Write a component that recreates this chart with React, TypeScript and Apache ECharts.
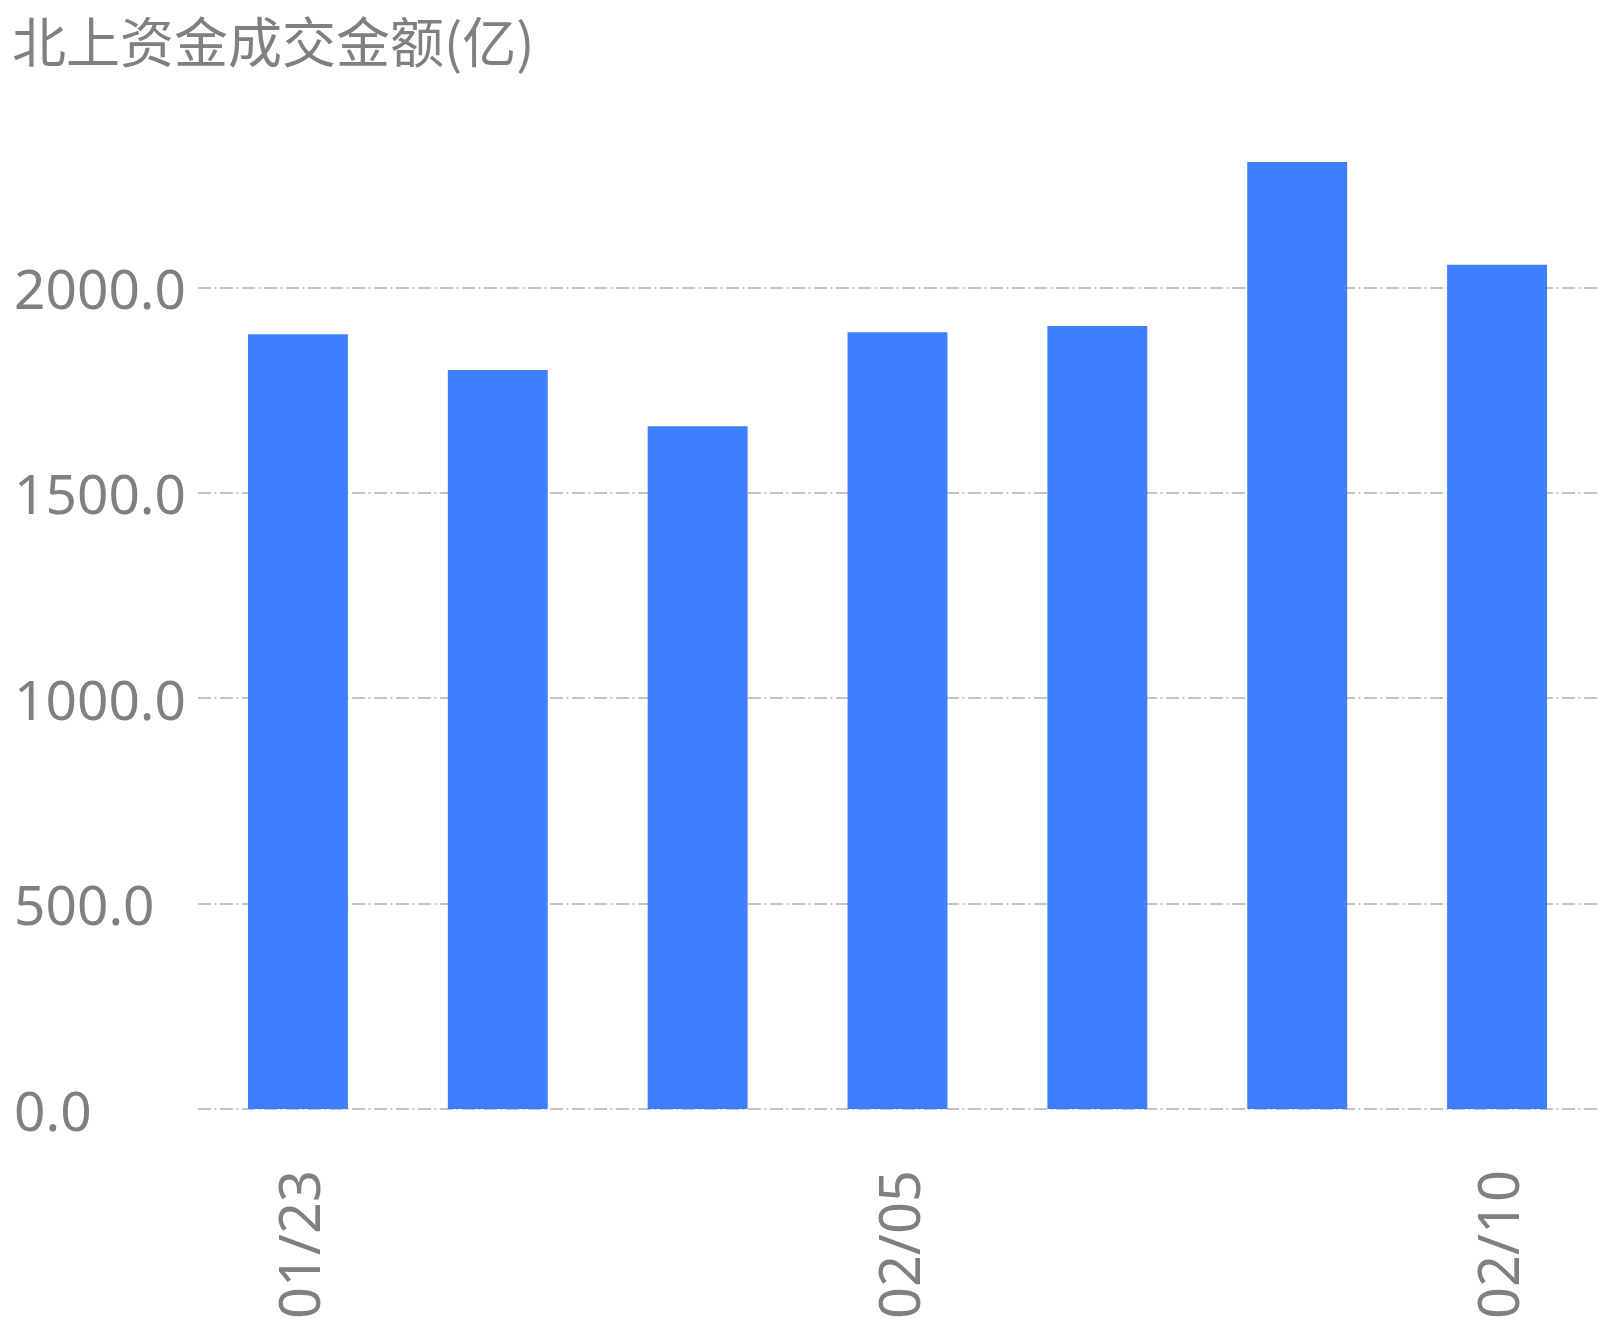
import { useEffect, useRef } from 'react'
import * as echarts from 'echarts'

// 北上资金成交金额(亿)
const dates = ['01/23', '01/24', '01/27', '02/05', '02/06', '02/07', '02/10']
const amounts = [1886, 1799, 1662, 1891, 1906, 2305, 2055]
const yTicks = { min: 0, max: 2500, interval: 500 }

const GREY = '#808080'
const AXIS_FONT = "'Noto Sans', sans-serif"

export const App = () => {
  const chartRef = useRef(null)

  useEffect(() => {
    const chart = echarts.init(chartRef.current, null, { renderer: 'svg' })

    const option = {
      animation: false,
      title: {
        text: '北上资金成交金额(亿)',
        left: 4,
        top: 3,
        padding: 0,
        textStyle: {
          color: GREY,
          fontSize: 54,
          lineHeight: 56,
          fontWeight: 'normal',
          fontFamily: "'Noto Sans CJK SC', sans-serif"
        }
      },
      grid: { left: 190, right: 1, top: 74, bottom: 208 },
      xAxis: {
        type: 'category',
        data: dates,
        axisLine: { show: false },
        axisTick: { show: false },
        axisLabel: {
          interval: 2,
          rotate: 90,
          margin: 61,
          color: GREY,
          fontSize: 56,
          fontFamily: AXIS_FONT
        }
      },
      yAxis: {
        type: 'value',
        min: yTicks.min,
        max: yTicks.max,
        interval: yTicks.interval,
        axisLine: { show: false },
        axisTick: { show: false },
        axisLabel: {
          showMaxLabel: false,
          align: 'left',
          margin: 184,
          color: GREY,
          fontSize: 55,
          fontFamily: AXIS_FONT,
          formatter: (v: number) => v.toFixed(1)
        },
        splitLine: {
          showMaxLine: false,
          lineStyle: { color: '#c4c4c4', width: 2, type: [13, 3.5, 2, 3.5] }
        }
      },
      series: [
        {
          name: '成交金额',
          type: 'bar',
          data: amounts,
          barWidth: '50%',
          itemStyle: { color: '#3e7eff' }
        }
      ]
    }

    chart.setOption(option)

    return () => {
      chart.dispose()
    }
  }, [])

  return <div ref={chartRef} style={{ width: '1590px', height: '1314px' }} />
}

export default App
